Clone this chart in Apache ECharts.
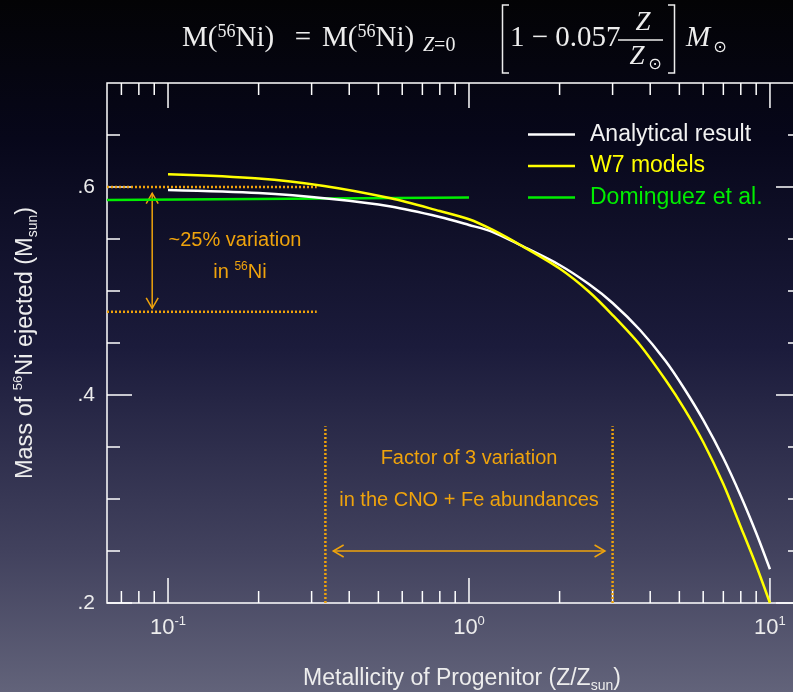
<!DOCTYPE html>
<html>
<head>
<meta charset="utf-8">
<script src="https://cdn.jsdelivr.net/npm/echarts@6/dist/echarts.min.js"></script>
<style>
  html, body { margin: 0; padding: 0; background: #000; }
  #chart { width: 793px; height: 692px; }
</style>
</head>
<body>
<div id="chart"></div>
<script>
// Metallicity of the progenitor (Z / Zsun) and ejected 56Ni mass (Msun)
const analyticZ    = [0.1, 0.2, 0.35, 0.55, 0.8, 1, 1.2, 1.5, 2, 2.5, 3, 3.7, 4.5, 5.2, 6, 7, 8, 9, 10];
const analyticMass = [0.5971, 0.5942, 0.5885, 0.5813, 0.5712, 0.5635, 0.5567, 0.5433, 0.525, 0.5067,
                      0.4885, 0.4625, 0.4327, 0.4058, 0.376, 0.3394, 0.3029, 0.2673, 0.2324];

const w7Z    = [0.1, 0.2, 0.33, 0.55, 0.8, 1, 1.2, 1.5, 2, 2.5, 3, 3.7, 4.5, 5.2, 6, 7, 8, 9, 10];
const w7Mass = [0.6122, 0.6082, 0.601, 0.5891, 0.5769, 0.569, 0.5587, 0.5433, 0.5216, 0.4995,
                0.4769, 0.4481, 0.4144, 0.3865, 0.3548, 0.3144, 0.2731, 0.2361, 0.2];

const dominguezZ    = [0.0627, 1];
const dominguezMass = [0.5875, 0.59];

// Axis ranges
const X_MIN = 0.0627, X_MAX = 12.68;
const Y_MIN = 0.2, Y_MAX = 0.7;

// Tick marks drawn on all four sides of the frame
const xMajorTicks = [0.1, 1, 10];
const xMinorTicks = [0.07, 0.08, 0.09, 0.2, 0.3, 0.4, 0.5, 0.6, 0.7, 0.8, 0.9, 2, 3, 4, 5, 6, 7, 8, 9];
const yMajorTicks = [0.2, 0.4, 0.6];
const yMinorTicks = [0.25, 0.3, 0.35, 0.45, 0.5, 0.55, 0.65];

// Annotation guides: the ~25% spread in 56Ni and the factor-of-3 metallicity range
const spreadLevels = [0.6, 0.48];
const spreadEndZ = 0.312;
const cnoRangeZ = [1 / 3, 3];
const cnoGuideTop = 0.37;
const arrowSegments = [
  [0.0886, 0.594, 0.0886, 0.4834],
  [0.354, 0.25, 2.83, 0.25]
];

const SANS = '"Liberation Sans", Arial, sans-serif';
const SERIF = '"Liberation Serif", "DejaVu Serif", serif';
const MATH = '"DejaVu Sans", sans-serif';
const ORANGE = '#efa30c';
const INK = '#ededed';

const zip = (xs, ys) => xs.map((x, i) => [x, ys[i]]);

function renderXTick(params, api) {
  const cs = params.coordSys;
  const px = api.coord([api.value(0), Y_MIN])[0];
  const len = api.value(1) === 1 ? 25 : 12;
  const bottom = cs.y + cs.height;
  const st = { stroke: '#fff', lineWidth: 1.5 };
  return {
    type: 'group',
    children: [
      { type: 'line', shape: { x1: px, y1: bottom, x2: px, y2: bottom - len }, style: st },
      { type: 'line', shape: { x1: px, y1: cs.y, x2: px, y2: cs.y + len }, style: st }
    ]
  };
}

function renderYTick(params, api) {
  const cs = params.coordSys;
  const py = api.coord([X_MIN, api.value(1)])[1];
  const len = api.value(2) === 1 ? 25 : 13;
  const right = cs.x + cs.width;
  const st = { stroke: '#fff', lineWidth: 1.5 };
  return {
    type: 'group',
    children: [
      { type: 'line', shape: { x1: cs.x, y1: py, x2: cs.x + len, y2: py }, style: st },
      { type: 'line', shape: { x1: right, y1: py, x2: right - len, y2: py }, style: st }
    ]
  };
}

function renderArrow(params, api) {
  const a = api.coord([api.value(0), api.value(1)]);
  const b = api.coord([api.value(2), api.value(3)]);
  const ang = Math.atan2(b[1] - a[1], b[0] - a[0]);
  const L = 12, spread = Math.PI / 6;
  const head = (p, dir) => ({
    type: 'polyline',
    shape: {
      points: [
        [p[0] - L * Math.cos(dir - spread), p[1] - L * Math.sin(dir - spread)],
        [p[0], p[1]],
        [p[0] - L * Math.cos(dir + spread), p[1] - L * Math.sin(dir + spread)]
      ]
    },
    style: { stroke: ORANGE, lineWidth: 1.5, fill: null }
  });
  return {
    type: 'group',
    children: [
      { type: 'line', shape: { x1: a[0], y1: a[1], x2: b[0], y2: b[1] }, style: { stroke: ORANGE, lineWidth: 1.5 } },
      head(b, ang),
      head(a, ang + Math.PI)
    ]
  };
}

const dottedGuide = (data) => ({
  type: 'line',
  data: data,
  symbol: 'none',
  silent: true,
  z: 3,
  lineStyle: { color: ORANGE, width: 2.5, type: [2, 2] }
});

const chart = echarts.init(document.getElementById('chart'), null, { renderer: 'canvas' });

const serifRich = {
  r: { fontFamily: SERIF, fontSize: 29, lineHeight: 30, fill: INK },
  s: { fontFamily: SERIF, fontSize: 18, lineHeight: 18, verticalAlign: 'top', fill: INK }
};

chart.setOption({
  animation: false,
  backgroundColor: {
    type: 'linear', x: 0, y: 0, x2: 0, y2: 1,
    colorStops: [
      { offset: 0, color: '#030305' },
      { offset: 0.2, color: '#07071a' },
      { offset: 0.5, color: '#1b1b3b' },
      { offset: 0.8, color: '#42425e' },
      { offset: 1, color: '#62637a' }
    ]
  },
  grid: {
    left: 107, top: 83, width: 694, height: 520,
    outerBoundsMode: 'none',
    show: true, borderColor: '#fff', borderWidth: 1.5, backgroundColor: 'transparent'
  },
  legend: {
    orient: 'vertical', left: 528, top: 123,
    icon: 'rect', itemWidth: 47, itemHeight: 2.5, itemGap: 8.5, padding: 0,
    textStyle: { fontFamily: SANS, fontSize: 23, padding: [0, 0, 0, 10] },
    data: [
      { name: 'Analytical result', textStyle: { color: '#f2f2f2' } },
      { name: 'W7 models', textStyle: { color: '#ffff00' } },
      { name: 'Dominguez et al.', textStyle: { color: '#00ee00' } }
    ]
  },
  xAxis: {
    type: 'log', logBase: 10, min: X_MIN, max: X_MAX,
    axisLine: { show: false }, axisTick: { show: false },
    splitLine: { show: false }, minorTick: { show: false },
    axisLabel: {
      margin: 12,
      formatter: function (v) {
        const e = Math.log10(v);
        if (Math.abs(e - Math.round(e)) > 1e-6) return '';
        return '{b|10}{s|' + Math.round(e) + '}';
      },
      rich: {
        b: { fontFamily: SANS, fontSize: 22, lineHeight: 26, color: INK },
        s: { fontFamily: SANS, fontSize: 13, lineHeight: 13, verticalAlign: 'top', color: INK }
      }
    },
    name: '{b|Metallicity of Progenitor (Z/Z}{s|sun}{b|)}',
    nameLocation: 'middle', nameGap: 62,
    nameTextStyle: {
      padding: [0, 0, 0, 16],
      rich: {
        b: { fontFamily: SANS, fontSize: 23, lineHeight: 28, color: INK },
        s: { fontFamily: SANS, fontSize: 14, lineHeight: 14, verticalAlign: 'bottom', color: INK }
      }
    }
  },
  yAxis: {
    type: 'value', min: Y_MIN, max: Y_MAX, interval: 0.2,
    axisLine: { show: false }, axisTick: { show: false },
    splitLine: { show: false },
    axisLabel: {
      margin: 12, fontFamily: SANS, fontSize: 21, color: INK,
      formatter: function (v) {
        if (Math.abs(v * 5 - Math.round(v * 5)) > 1e-6) return '';
        return '.' + Math.round(v * 10);
      }
    },
    name: '{b|Mass of }{s|56}{b|Ni ejected (M}{d|sun}{b|)}',
    nameLocation: 'middle', nameRotate: 90, nameGap: 67,
    nameTextStyle: {
      rich: {
        b: { fontFamily: SANS, fontSize: 23.5, lineHeight: 28, color: INK },
        s: { fontFamily: SANS, fontSize: 13, lineHeight: 13, verticalAlign: 'top', color: INK },
        d: { fontFamily: SANS, fontSize: 14, lineHeight: 14, verticalAlign: 'bottom', color: INK }
      }
    }
  },
  series: [
    {
      type: 'custom', name: 'xTicks', silent: true, z: 1,
      renderItem: renderXTick,
      data: xMajorTicks.map(v => [v, 1]).concat(xMinorTicks.map(v => [v, 0]))
    },
    {
      type: 'custom', name: 'yTicks', silent: true, z: 1,
      renderItem: renderYTick,
      data: yMajorTicks.map(v => [X_MIN, v, 1]).concat(yMinorTicks.map(v => [X_MIN, v, 0]))
    },
    dottedGuide([[X_MIN, spreadLevels[0]], [spreadEndZ, spreadLevels[0]]]),
    dottedGuide([[X_MIN, spreadLevels[1]], [spreadEndZ, spreadLevels[1]]]),
    dottedGuide([[cnoRangeZ[0], Y_MIN], [cnoRangeZ[0], cnoGuideTop]]),
    dottedGuide([[cnoRangeZ[1], Y_MIN], [cnoRangeZ[1], cnoGuideTop]]),
    {
      type: 'custom', name: 'arrows', silent: true, z: 3,
      renderItem: renderArrow,
      data: arrowSegments
    },
    {
      type: 'line', name: 'Dominguez et al.', data: zip(dominguezZ, dominguezMass),
      symbol: 'none', z: 4,
      lineStyle: { color: '#00ee00', width: 2.5 }, itemStyle: { color: '#00ee00' }
    },
    {
      type: 'line', name: 'Analytical result', data: zip(analyticZ, analyticMass),
      symbol: 'none', smooth: 0.3, z: 5,
      lineStyle: { color: '#ffffff', width: 2.5 }, itemStyle: { color: '#ffffff' }
    },
    {
      type: 'line', name: 'W7 models', data: zip(w7Z, w7Mass),
      symbol: 'none', smooth: 0.3, z: 6,
      lineStyle: { color: '#ffff00', width: 2.5 }, itemStyle: { color: '#ffff00' }
    }
  ],
  graphic: [
    // Formula heading: M(56Ni) = M(56Ni)_{Z=0} [1 - 0.057 Z/Zsun] Msun
    { type: 'text', x: 182, y: 38, style: { text: '{r|M(}{s|56}{r|Ni)}', rich: serifRich, fontFamily: SERIF, fontSize: 29, fill: INK, align: 'left', verticalAlign: 'middle' } },
    { type: 'text', x: 303, y: 38, style: { text: '=', fontFamily: SERIF, fontSize: 29, fill: INK, align: 'center', verticalAlign: 'middle' } },
    { type: 'text', x: 322, y: 38, style: { text: '{r|M(}{s|56}{r|Ni)}', rich: serifRich, fontFamily: SERIF, fontSize: 29, fill: INK, align: 'left', verticalAlign: 'middle' } },
    { type: 'text', x: 423, y: 46, style: { text: '{i|Z}{r|=0}', rich: {
        i: { fontFamily: SERIF, fontSize: 20, fontStyle: 'italic', fill: INK },
        r: { fontFamily: SERIF, fontSize: 20, fill: INK }
      }, fontFamily: SERIF, fontSize: 20, fill: INK, align: 'left', verticalAlign: 'middle' } },
    { type: 'polyline', shape: { points: [[509, 5], [502.5, 5], [502.5, 73], [509, 73]] }, style: { stroke: INK, lineWidth: 1.5, fill: null } },
    { type: 'text', x: 510, y: 38, style: { text: '1 \u2212 0.057', fontFamily: SERIF, fontSize: 29, fill: INK, align: 'left', verticalAlign: 'middle' } },
    { type: 'text', x: 643, y: 23, style: { text: 'Z', fontFamily: SERIF, fontSize: 27, fontStyle: 'italic', fill: INK, align: 'center', verticalAlign: 'middle' } },
    { type: 'line', shape: { x1: 618, y1: 40, x2: 663, y2: 40 }, style: { stroke: INK, lineWidth: 1.3 } },
    { type: 'text', x: 637, y: 57, style: { text: 'Z', fontFamily: SERIF, fontSize: 27, fontStyle: 'italic', fill: INK, align: 'center', verticalAlign: 'middle' } },
    { type: 'text', x: 655, y: 65, style: { text: '\u2299', fontFamily: MATH, fontSize: 16, fill: INK, align: 'center', verticalAlign: 'middle' } },
    { type: 'polyline', shape: { points: [[668, 5], [674.5, 5], [674.5, 73], [668, 73]] }, style: { stroke: INK, lineWidth: 1.5, fill: null } },
    { type: 'text', x: 686, y: 38, style: { text: 'M', fontFamily: SERIF, fontSize: 29, fontStyle: 'italic', fill: INK, align: 'left', verticalAlign: 'middle' } },
    { type: 'text', x: 720, y: 48, style: { text: '\u2299', fontFamily: MATH, fontSize: 16, fill: INK, align: 'center', verticalAlign: 'middle' } },

    // Annotation labels
    { type: 'text', x: 235, y: 240, style: { text: '~25% variation', fontFamily: SANS, fontSize: 20, fill: ORANGE, align: 'center', verticalAlign: 'middle' } },
    { type: 'text', x: 240, y: 272, style: { text: '{r|in }{s|56}{r|Ni}', rich: {
        r: { fontFamily: SANS, fontSize: 20, lineHeight: 22, fill: ORANGE },
        s: { fontFamily: SANS, fontSize: 12, lineHeight: 12, verticalAlign: 'top', fill: ORANGE }
      }, fontFamily: SANS, fontSize: 20, fill: ORANGE, align: 'center', verticalAlign: 'middle' } },
    { type: 'text', x: 469, y: 458, style: { text: 'Factor of 3 variation', fontFamily: SANS, fontSize: 20, fill: ORANGE, align: 'center', verticalAlign: 'middle' } },
    { type: 'text', x: 469, y: 500, style: { text: 'in the CNO + Fe abundances', fontFamily: SANS, fontSize: 20, fill: ORANGE, align: 'center', verticalAlign: 'middle' } }
  ]
});
</script>
</body>
</html>
